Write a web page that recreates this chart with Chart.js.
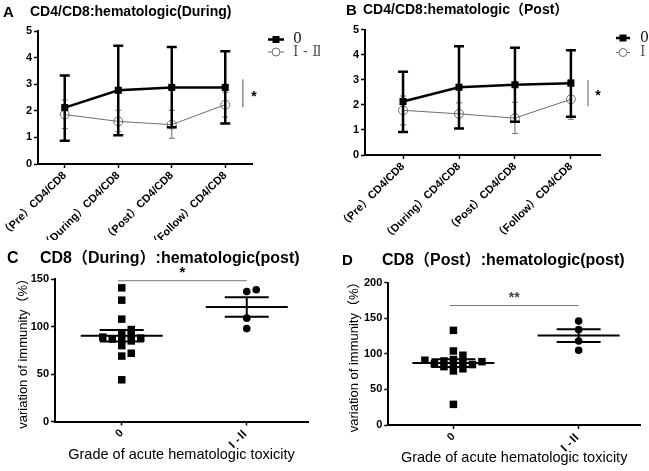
<!DOCTYPE html>
<html><head><meta charset="utf-8">
<script src="https://cdn.jsdelivr.net/npm/chart.js@4"></script>
<style>
html,body{margin:0;padding:0;background:#fff;}
#wrap{position:relative;width:649px;height:471px;overflow:hidden;background:#fff;}
canvas{position:absolute;}
</style></head><body>
<div id="wrap">
<canvas id="cA" width="320" height="240" style="left:0;top:0"></canvas>
<canvas id="cB" width="329" height="240" style="left:320px;top:0"></canvas>
<canvas id="cC" width="320" height="231" style="left:0;top:240px"></canvas>
<canvas id="cD" width="329" height="231" style="left:320px;top:240px"></canvas>
</div>
<script>
// ---------- DATA ----------
const timeCategories = ['（Pre）CD4/CD8', '（During）CD4/CD8', '（Post）CD4/CD8', '（Follow）CD4/CD8'];
const seriesNames = ['0', 'Ⅰ - Ⅱ'];
const yTicksRatio = [0, 1, 2, 3, 4, 5];

// Panel A: CD4/CD8 by hematologic toxicity (During)
const aGrade0Mean = [2.12, 2.77, 2.88, 2.88];
const aGrade0Low  = [0.87, 1.08, 1.38, 1.52];
const aGrade0High = [3.33, 4.45, 4.40, 4.24];
const aGrade12Mean = [1.86, 1.60, 1.48, 2.23];
const aGrade12Low  = [1.33, 1.21, 0.97, 1.76];
const aGrade12High = [2.40, 2.02, 2.02, 2.70];

// Panel B: CD4/CD8 by hematologic toxicity (Post)
const bGrade0Mean = [2.13, 2.70, 2.80, 2.86];
const bGrade0Low  = [0.92, 1.06, 1.32, 1.52];
const bGrade0High = [3.32, 4.33, 4.27, 4.17];
const bGrade12Mean = [1.78, 1.64, 1.47, 2.22];
const bGrade12Low  = [1.20, 1.08, 0.86, 1.42];
const bGrade12High = [2.35, 2.08, 2.10, 3.00];

// Panels C/D: variation of immunity (%) by grade
const gradeCategories = ['0', 'Ⅰ-Ⅱ'];
const cGrade0Values  = [141, 128, 108, 97, 92, 91, 89, 88, 87, 86, 85, 80, 72, 69, 44];
const cGrade12Values = [139, 137, 109, 98];
const dGrade0Values  = [133, 104, 98, 92, 91, 90, 89, 88, 86, 85, 84, 82, 79, 76, 29];
const dGrade12Values = [146, 134, 118, 105];

// ---------- STYLE / HELPERS ----------
const SANS = '"Liberation Sans", Arial, "Noto Sans CJK SC", sans-serif';
const SERIF = '"DejaVu Serif", "Liberation Serif", serif';
const BLACK = '#000000';
const GREY = '#6e6e6e';

const errorBarPlugin = {
  id: 'errorBars',
  beforeDatasetDraw(chart, args) {
    const ds = chart.data.datasets[args.index];
    if (!ds.errLow) return;
    const ctx = chart.ctx, xs = chart.scales.x, ys = chart.scales.y;
    ctx.save();
    ctx.strokeStyle = ds.borderColor;
    ctx.lineWidth = ds.errWidth;
    ds.data.forEach((p, i) => {
      const x = xs.getPixelForValue(p.x);
      const y1 = ys.getPixelForValue(ds.errLow[i]);
      const y2 = ys.getPixelForValue(ds.errHigh[i]);
      ctx.beginPath();
      ctx.moveTo(x, y1); ctx.lineTo(x, y2);
      ctx.moveTo(x - ds.capHalf, y1); ctx.lineTo(x + ds.capHalf, y1);
      ctx.moveTo(x - ds.capHalf, y2); ctx.lineTo(x + ds.capHalf, y2);
      ctx.stroke();
    });
    ctx.restore();
  }
};

const sideLegendPlugin = {
  id: 'sideLegend',
  afterDraw(chart, args, o) {
    if (!o || o.x === undefined) return;
    const ctx = chart.ctx;
    ctx.save();
    chart.data.datasets.forEach((ds, i) => {
      const y = o.y + i * o.dy;
      const cx = o.x + o.len / 2;
      ctx.strokeStyle = ds.borderColor;
      ctx.lineWidth = ds.borderWidth;
      ctx.beginPath(); ctx.moveTo(o.x, y); ctx.lineTo(o.x + o.len, y); ctx.stroke();
      if (ds.pointStyle === 'rect') {
        ctx.fillStyle = ds.pointBackgroundColor;
        ctx.fillRect(cx - 3.5, y - 3.5, 7, 7);
      } else {
        ctx.fillStyle = '#fff';
        ctx.lineWidth = 1;
        ctx.beginPath(); ctx.arc(cx, y, 4, 0, Math.PI * 2); ctx.fill(); ctx.stroke();
      }
      ctx.fillStyle = i === 0 ? '#111' : '#555';
      ctx.font = o.font;
      ctx.textBaseline = 'middle';
      ctx.textAlign = 'left';
      ctx.fillText(ds.label, o.x + o.len + o.gap, y);
    });
    ctx.restore();
  }
};

const panelTextPlugin = {
  id: 'panelText',
  afterDraw(chart, args, o) {
    if (!o || !o.items) return;
    const ctx = chart.ctx;
    ctx.save();
    o.items.forEach(t => {
      ctx.font = t.font;
      ctx.fillStyle = t.color || '#000';
      ctx.textBaseline = 'middle';
      ctx.textAlign = 'left';
      ctx.fillText(t.text, t.x, t.y);
    });
    ctx.restore();
  }
};

const sigPlugin = {
  id: 'sig',
  afterDraw(chart, args, o) {
    if (!o || !o.kind) return;
    const ctx = chart.ctx, xs = chart.scales.x, ys = chart.scales.y;
    ctx.save();
    ctx.strokeStyle = o.color; ctx.lineWidth = 1;
    ctx.beginPath();
    let tx, ty;
    if (o.kind === 'v') {
      const x = xs.getPixelForValue(o.x);
      const y1 = ys.getPixelForValue(o.y1), y2 = ys.getPixelForValue(o.y2);
      ctx.moveTo(x, y1); ctx.lineTo(x, y2);
      tx = x + o.dx; ty = (y1 + y2) / 2 + o.dy;
    } else {
      const x1 = xs.getPixelForValue(o.x1), x2 = xs.getPixelForValue(o.x2);
      const y = ys.getPixelForValue(o.y);
      ctx.moveTo(x1, y); ctx.lineTo(x2, y);
      tx = (x1 + x2) / 2 + o.dx; ty = y + o.dy;
    }
    ctx.stroke();
    ctx.fillStyle = o.textColor;
    ctx.font = o.font;
    ctx.textAlign = 'center';
    ctx.textBaseline = 'middle';
    ctx.fillText(o.text, tx, ty);
    ctx.restore();
  }
};

const swarmPlugin = {
  id: 'swarm',
  afterDatasetsUpdate(chart, args, o) {
    if (!o || !o.spacing) return;
    chart.data.datasets.forEach((ds, di) => {
      const els = chart.getDatasetMeta(di).data;
      const order = els.map((e, i) => i).sort((a, b) => els[b].y - els[a].y);
      const placed = [];
      order.forEach(i => {
        const e = els[i];
        const cx = e.x;
        for (let k = 0; k < 40; k++) {
          const off = k === 0 ? 0 : (k % 2 ? 1 : -1) * Math.ceil(k / 2) * o.spacing;
          const nx = cx + off;
          const hit = placed.some(p => Math.abs(p.x - nx) < o.spacing - 0.5 && Math.abs(p.y - e.y) < o.minDy);
          if (!hit) { e.x = nx; placed.push({x: nx, y: e.y}); break; }
        }
      });
    });
  }
};

const meanSemPlugin = {
  id: 'meanSem',
  afterDatasetsDraw(chart, args, o) {
    if (!o || !o.meanHalf) return;
    const ctx = chart.ctx, xs = chart.scales.x, ys = chart.scales.y;
    ctx.save();
    ctx.strokeStyle = '#000';
    ctx.lineWidth = 2;
    chart.data.datasets.forEach(ds => {
      const v = ds.data.map(p => p.y);
      const n = v.length;
      const m = v.reduce((a, b) => a + b, 0) / n;
      const sd = Math.sqrt(v.reduce((a, b) => a + (b - m) * (b - m), 0) / (n - 1));
      const se = sd / Math.sqrt(n);
      const cx = xs.getPixelForValue(ds.data[0].x);
      const ym = ys.getPixelForValue(m), yh = ys.getPixelForValue(m + se), yl = ys.getPixelForValue(m - se);
      ctx.beginPath();
      ctx.moveTo(cx - o.meanHalf, ym); ctx.lineTo(cx + o.meanHalf, ym);
      ctx.moveTo(cx - o.semHalf, yh); ctx.lineTo(cx + o.semHalf, yh);
      ctx.moveTo(cx - o.semHalf, yl); ctx.lineTo(cx + o.semHalf, yl);
      ctx.moveTo(cx, yh); ctx.lineTo(cx, yl);
      ctx.stroke();
    });
    ctx.restore();
  }
};

Chart.register(errorBarPlugin, sideLegendPlugin, panelTextPlugin, sigPlugin, swarmPlugin, meanSemPlugin);

function toXY(vals, xFn) { return vals.map((v, i) => ({x: xFn(i), y: v})); }

function axisCommon() {
  return {
    grid: {display: true, drawOnChartArea: false, drawTicks: true, tickLength: 4, tickColor: '#000', tickWidth: 1.5},
    border: {display: true, color: '#000', width: 2}
  };
}

function lineChart(id, L, opt) {
  const xCommon = axisCommon();
  const yCommon = axisCommon();
  return new Chart(document.getElementById(id), {
    type: 'line',
    data: {
      datasets: [
        {
          label: seriesNames[0], data: toXY(L.m0, i => i),
          errLow: L.lo0, errHigh: L.hi0, errWidth: 2.5, capHalf: 5,
          borderColor: BLACK, borderWidth: 2.5, pointStyle: 'rect', pointRadius: 5,
          pointBackgroundColor: BLACK, pointBorderColor: BLACK, pointBorderWidth: 0, clip: false
        },
        {
          label: seriesNames[1], data: toXY(L.m1, i => i),
          errLow: L.lo1, errHigh: L.hi1, errWidth: 1, capHalf: 3,
          borderColor: GREY, borderWidth: 1, pointStyle: 'circle', pointRadius: 4.5,
          pointBackgroundColor: 'rgba(255,255,255,0)', pointBorderColor: GREY, pointBorderWidth: 1, clip: false
        }
      ]
    },
    options: {
      responsive: false, animation: false, devicePixelRatio: 1,
      layout: {padding: {left: 0, top: opt.top, right: opt.right, bottom: 0}},
      plugins: {
        legend: {display: false}, tooltip: {enabled: false},
        sideLegend: opt.legend, panelText: {items: opt.texts}, sig: opt.sig
      },
      scales: {
        x: {
          type: 'linear', min: opt.xmin, max: opt.xmax, ...xCommon,
          afterBuildTicks: s => { s.ticks = timeCategories.map((c, i) => ({value: i})); },
          afterFit: s => { s.height = opt.xh; s.paddingLeft = 0; s.paddingRight = 0; },
          ticks: {
            callback: v => timeCategories[v], minRotation: 45, maxRotation: 45, autoSkip: false,
            color: '#000', padding: 1, font: {family: SANS, size: 11, weight: 'bold'}
          }
        },
        y: {
          min: 0, max: 5, ...yCommon,
          afterBuildTicks: s => { s.ticks = yTicksRatio.map(v => ({value: v})); },
          afterFit: s => { s.width = opt.yw; s.paddingTop = 0; s.paddingBottom = 0; },
          ticks: {color: '#000', padding: 2, font: {family: SANS, size: 11, weight: 'bold'}}
        }
      }
    }
  });
}

function dotChart(id, g0, g1, opt) {
  const xCommon = axisCommon();
  const yCommon = axisCommon();
  return new Chart(document.getElementById(id), {
    type: 'scatter',
    data: {
      datasets: [
        {label: gradeCategories[0], data: toXY(g0, () => 0), pointStyle: 'rect', pointRadius: 5.3,
         pointBackgroundColor: BLACK, pointBorderWidth: 0, clip: false},
        {label: gradeCategories[1], data: toXY(g1, () => 1), pointStyle: 'circle', pointRadius: 3.8,
         pointBackgroundColor: BLACK, pointBorderWidth: 0, clip: false}
      ]
    },
    options: {
      responsive: false, animation: false, devicePixelRatio: 1,
      layout: {padding: {left: 0, top: opt.top, right: opt.right, bottom: 0}},
      plugins: {
        legend: {display: false}, tooltip: {enabled: false},
        panelText: {items: opt.texts}, sig: opt.sig,
        swarm: {spacing: 9.5, minDy: 5.5},
        meanSem: {meanHalf: 41, semHalf: 22}
      },
      scales: {
        x: {
          type: 'linear', min: opt.xmin, max: opt.xmax, ...xCommon,
          afterBuildTicks: s => { s.ticks = gradeCategories.map((c, i) => ({value: i})); },
          afterFit: s => { s.height = opt.xh; s.paddingLeft = 0; s.paddingRight = 0; },
          ticks: {
            callback: v => gradeCategories[v], minRotation: 45, maxRotation: 45, autoSkip: false,
            color: '#000', padding: 1, font: {family: SANS, size: 11, weight: 'bold'}
          },
          title: {display: true, text: 'Grade of acute hematologic toxicity', color: '#000',
                  font: {family: SANS, size: 14.5}, padding: {top: 0, bottom: opt.xtPad}}
        },
        y: {
          min: 0, max: opt.ymax, ...yCommon,
          afterBuildTicks: s => { s.ticks = opt.yticks.map(v => ({value: v})); },
          afterFit: s => { s.width = opt.yw; s.paddingTop = 0; s.paddingBottom = 0; },
          ticks: {color: '#000', padding: 2, font: {family: SANS, size: 11, weight: 'bold'}},
          title: {display: true, text: 'variation of immunity（%）', color: '#000',
                  font: {family: SANS, size: 13}, padding: {top: opt.ytPad, bottom: 0}}
        }
      }
    }
  });
}

// ---------- CHARTS ----------
lineChart('cA', {m0: aGrade0Mean, lo0: aGrade0Low, hi0: aGrade0High, m1: aGrade12Mean, lo1: aGrade12Low, hi1: aGrade12High}, {
  top: 31, right: 68, yw: 38, xh: 76, xmin: -0.5, xmax: 3.5,
  legend: {x: 268, y: 39.5, dy: 12.5, len: 16, gap: 9, font: '14px ' + SERIF},
  texts: [
    {text: 'A', x: 3, y: 13, font: 'bold 15px ' + SANS},
    {text: 'CD4/CD8:hematologic(During)', x: 30, y: 12.5, font: 'bold 14px ' + SANS}
  ],
  sig: {kind: 'v', x: 3.33, y1: 3.18, y2: 2.13, color: '#555', dx: 11, dy: 4,
        text: '*', textColor: '#000', font: 'bold 14px ' + SANS}
});

lineChart('cB', {m0: bGrade0Mean, lo0: bGrade0Low, hi0: bGrade0High, m1: bGrade12Mean, lo1: bGrade12Low, hi1: bGrade12High}, {
  top: 29.5, right: 49, yw: 45, xh: 85, xmin: -0.68, xmax: 3.52,
  legend: {x: 296, y: 38, dy: 14.5, len: 14, gap: 10, font: '14px ' + SERIF},
  texts: [
    {text: 'B', x: 26, y: 11, font: 'bold 15px ' + SANS},
    {text: 'CD4/CD8:hematologic（Post）', x: 43, y: 10.5, font: 'bold 14px ' + SANS}
  ],
  sig: {kind: 'v', x: 3.306, y1: 2.98, y2: 1.94, color: '#555', dx: 10, dy: 3,
        text: '*', textColor: '#000', font: 'bold 14px ' + SANS}
});

dotChart('cC', cGrade0Values, cGrade12Values, {
  top: 39.3, right: 12, yw: 55, xh: 49.5, xmin: -0.534, xmax: 1.49, ymax: 150, yticks: [0, 50, 100, 150],
  xtPad: 7.6, ytPad: 16,
  texts: [
    {text: 'C', x: 7, y: 19, font: 'bold 16px ' + SANS},
    {text: 'CD8（During）:hematologic(post)', x: 40, y: 18.5, font: 'bold 16px ' + SANS}
  ],
  sig: {kind: 'h', x1: -0.03, x2: 1.0, y: 148.5, color: '#777', dx: 0, dy: -8,
        text: '*', textColor: '#000', font: 'bold 15px ' + SANS}
});

dotChart('cD', dGrade0Values, dGrade12Values, {
  top: 42.7, right: 9, yw: 68.3, xh: 46, xmin: -0.52, xmax: 1.49, ymax: 200, yticks: [0, 50, 100, 150, 200],
  xtPad: 4.6, ytPad: 27,
  texts: [
    {text: 'D', x: 22, y: 21, font: 'bold 15px ' + SANS},
    {text: 'CD8（Post）:hematologic(post)', x: 62, y: 21, font: 'bold 16px ' + SANS}
  ],
  sig: {kind: 'h', x1: -0.03, x2: 1.0, y: 167.9, color: '#777', dx: 0, dy: -7,
        text: '**', textColor: '#444', font: 'bold 14px ' + SANS}
});
</script>
</body></html>
